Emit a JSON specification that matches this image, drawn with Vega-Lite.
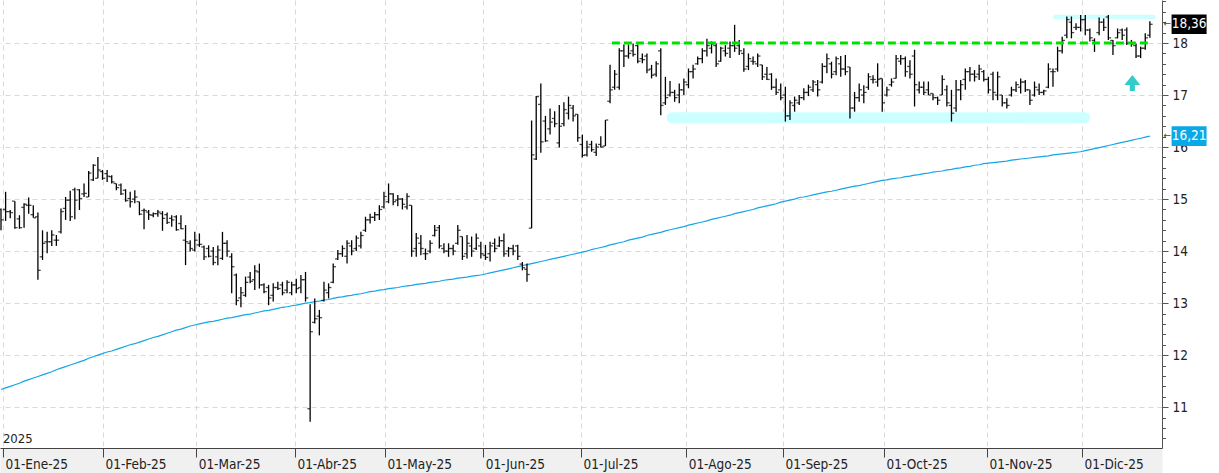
{
"$schema":"https://vega.github.io/schema/vega-lite/v6.json",
"width":1162,"height":448,
"autosize":{"type":"none"},
"padding":{"left":0,"top":0,"right":57,"bottom":25},
"background":"white",
"config":{"view":{"stroke":null},"font":"Liberation Sans Narrow, DejaVu Sans Condensed, Liberation Sans","axis":{"title":null}},
"datasets":{
"bars":[
{"i":0,"o":14.8,"h":14.82,"l":14.4,"c":14.6,"ma":11.34},
{"i":1,"o":14.8,"h":15.14,"l":14.58,"c":14.76,"ma":11.37},
{"i":2,"o":14.76,"h":14.79,"l":14.63,"c":14.74,"ma":11.4},
{"i":3,"o":14.96,"h":14.96,"l":14.43,"c":14.45,"ma":11.43},
{"i":4,"o":14.62,"h":14.69,"l":14.43,"c":14.45,"ma":11.46},
{"i":5,"o":14.84,"h":14.92,"l":14.45,"c":14.9,"ma":11.5},
{"i":6,"o":14.88,"h":15.03,"l":14.72,"c":14.88,"ma":11.53},
{"i":7,"o":14.7,"h":14.88,"l":14.64,"c":14.64,"ma":11.56},
{"i":8,"o":14.66,"h":14.74,"l":13.45,"c":13.63,"ma":11.59},
{"i":9,"o":13.89,"h":14.4,"l":13.83,"c":14.15,"ma":11.62},
{"i":10,"o":14.18,"h":14.37,"l":13.96,"c":14.18,"ma":11.65},
{"i":11,"o":14.18,"h":14.4,"l":14.1,"c":14.31,"ma":11.68},
{"i":12,"o":14.21,"h":14.31,"l":14.1,"c":14.21,"ma":11.72},
{"i":13,"o":14.37,"h":14.82,"l":14.34,"c":14.76,"ma":11.75},
{"i":14,"o":14.82,"h":15.04,"l":14.6,"c":14.98,"ma":11.78},
{"i":15,"o":14.98,"h":15.16,"l":14.58,"c":14.66,"ma":11.81},
{"i":16,"o":15.18,"h":15.22,"l":14.61,"c":14.98,"ma":11.84},
{"i":17,"o":15.18,"h":15.19,"l":14.79,"c":15.01,"ma":11.87},
{"i":18,"o":15.1,"h":15.3,"l":15.04,"c":15.11,"ma":11.9},
{"i":19,"o":15.04,"h":15.54,"l":15.04,"c":15.5,"ma":11.94},
{"i":20,"o":15.37,"h":15.67,"l":15.35,"c":15.65,"ma":11.97},
{"i":21,"o":15.4,"h":15.81,"l":15.4,"c":15.56,"ma":12.0},
{"i":22,"o":15.53,"h":15.56,"l":15.37,"c":15.4,"ma":12.03},
{"i":23,"o":15.49,"h":15.56,"l":15.33,"c":15.44,"ma":12.06},
{"i":24,"o":15.43,"h":15.46,"l":15.3,"c":15.33,"ma":12.08},
{"i":25,"o":15.3,"h":15.3,"l":15.17,"c":15.22,"ma":12.11},
{"i":26,"o":15.27,"h":15.3,"l":15.08,"c":15.1,"ma":12.14},
{"i":27,"o":15.17,"h":15.19,"l":14.95,"c":14.97,"ma":12.17},
{"i":28,"o":15.01,"h":15.14,"l":14.84,"c":14.95,"ma":12.2},
{"i":29,"o":15.0,"h":15.17,"l":14.92,"c":15.04,"ma":12.22},
{"i":30,"o":14.95,"h":14.95,"l":14.69,"c":14.71,"ma":12.25},
{"i":31,"o":14.78,"h":14.82,"l":14.42,"c":14.78,"ma":12.28},
{"i":32,"o":14.75,"h":14.79,"l":14.6,"c":14.7,"ma":12.31},
{"i":33,"o":14.69,"h":14.74,"l":14.65,"c":14.72,"ma":12.34},
{"i":34,"o":14.72,"h":14.79,"l":14.66,"c":14.75,"ma":12.36},
{"i":35,"o":14.72,"h":14.77,"l":14.39,"c":14.63,"ma":12.39},
{"i":36,"o":14.7,"h":14.74,"l":14.52,"c":14.55,"ma":12.42},
{"i":37,"o":14.63,"h":14.69,"l":14.47,"c":14.6,"ma":12.45},
{"i":38,"o":14.66,"h":14.69,"l":14.39,"c":14.41,"ma":12.48},
{"i":39,"o":14.53,"h":14.69,"l":14.42,"c":14.43,"ma":12.5},
{"i":40,"o":14.21,"h":14.5,"l":13.73,"c":14.18,"ma":12.53},
{"i":41,"o":14.15,"h":14.21,"l":13.99,"c":14.05,"ma":12.56},
{"i":42,"o":14.02,"h":14.37,"l":13.99,"c":14.21,"ma":12.58},
{"i":43,"o":14.12,"h":14.34,"l":14.08,"c":14.13,"ma":12.6},
{"i":44,"o":14.08,"h":14.11,"l":13.83,"c":13.89,"ma":12.62},
{"i":45,"o":14.05,"h":14.11,"l":13.88,"c":13.9,"ma":12.64},
{"i":46,"o":14.0,"h":14.08,"l":13.73,"c":13.78,"ma":12.65},
{"i":47,"o":13.89,"h":14.11,"l":13.73,"c":14.02,"ma":12.67},
{"i":48,"o":13.86,"h":14.37,"l":13.83,"c":14.15,"ma":12.69},
{"i":49,"o":14.15,"h":14.21,"l":13.89,"c":14.0,"ma":12.71},
{"i":50,"o":13.89,"h":13.96,"l":13.19,"c":13.7,"ma":12.72},
{"i":51,"o":13.54,"h":13.57,"l":12.96,"c":13.05,"ma":12.74},
{"i":52,"o":13.1,"h":13.31,"l":12.92,"c":13.2,"ma":12.76},
{"i":53,"o":13.15,"h":13.51,"l":13.12,"c":13.4,"ma":12.78},
{"i":54,"o":13.5,"h":13.6,"l":13.38,"c":13.42,"ma":12.79},
{"i":55,"o":13.45,"h":13.73,"l":13.25,"c":13.62,"ma":12.81},
{"i":56,"o":13.6,"h":13.76,"l":13.28,"c":13.35,"ma":12.83},
{"i":57,"o":13.35,"h":13.38,"l":13.19,"c":13.22,"ma":12.85},
{"i":58,"o":13.3,"h":13.35,"l":12.96,"c":13.1,"ma":12.86},
{"i":59,"o":13.15,"h":13.38,"l":13.03,"c":13.3,"ma":12.88},
{"i":60,"o":13.3,"h":13.41,"l":13.25,"c":13.28,"ma":12.9},
{"i":61,"o":13.35,"h":13.41,"l":13.15,"c":13.2,"ma":12.92},
{"i":62,"o":13.25,"h":13.44,"l":13.19,"c":13.4,"ma":12.93},
{"i":63,"o":13.2,"h":13.41,"l":13.15,"c":13.35,"ma":12.95},
{"i":64,"o":13.35,"h":13.47,"l":13.19,"c":13.28,"ma":12.96},
{"i":65,"o":13.3,"h":13.54,"l":13.19,"c":13.45,"ma":12.98},
{"i":66,"o":13.45,"h":13.6,"l":13.03,"c":13.1,"ma":13.0},
{"i":67,"o":10.97,"h":12.98,"l":10.72,"c":12.45,"ma":13.01},
{"i":68,"o":12.63,"h":13.09,"l":12.61,"c":12.7,"ma":13.03},
{"i":69,"o":12.75,"h":12.87,"l":12.38,"c":12.72,"ma":13.04},
{"i":70,"o":13.05,"h":13.41,"l":13.03,"c":13.25,"ma":13.06},
{"i":71,"o":13.2,"h":13.38,"l":13.09,"c":13.3,"ma":13.07},
{"i":72,"o":13.4,"h":13.76,"l":13.38,"c":13.7,"ma":13.09},
{"i":73,"o":13.85,"h":14.02,"l":13.83,"c":13.95,"ma":13.11},
{"i":74,"o":13.95,"h":14.11,"l":13.89,"c":14.05,"ma":13.12},
{"i":75,"o":13.9,"h":14.21,"l":13.76,"c":14.15,"ma":13.14},
{"i":76,"o":14.1,"h":14.21,"l":13.92,"c":14.0,"ma":13.15},
{"i":77,"o":14.05,"h":14.3,"l":14.0,"c":14.25,"ma":13.17},
{"i":78,"o":14.1,"h":14.37,"l":14.05,"c":14.3,"ma":13.18},
{"i":79,"o":14.4,"h":14.66,"l":14.37,"c":14.6,"ma":13.2},
{"i":80,"o":14.6,"h":14.72,"l":14.53,"c":14.65,"ma":13.22},
{"i":81,"o":14.65,"h":14.75,"l":14.58,"c":14.7,"ma":13.23},
{"i":82,"o":14.7,"h":14.88,"l":14.6,"c":14.8,"ma":13.25},
{"i":83,"o":14.85,"h":15.14,"l":14.82,"c":15.05,"ma":13.26},
{"i":84,"o":14.95,"h":15.3,"l":14.92,"c":15.1,"ma":13.28},
{"i":85,"o":15.1,"h":15.11,"l":14.88,"c":14.95,"ma":13.29},
{"i":86,"o":14.98,"h":15.08,"l":14.86,"c":15.0,"ma":13.3},
{"i":87,"o":15.0,"h":15.02,"l":14.8,"c":14.9,"ma":13.32},
{"i":88,"o":14.85,"h":15.11,"l":14.8,"c":15.05,"ma":13.33},
{"i":89,"o":14.88,"h":14.88,"l":13.89,"c":14.0,"ma":13.34},
{"i":90,"o":14.05,"h":14.35,"l":13.89,"c":14.25,"ma":13.36},
{"i":91,"o":14.15,"h":14.31,"l":13.92,"c":14.05,"ma":13.37},
{"i":92,"o":13.95,"h":14.05,"l":13.83,"c":13.95,"ma":13.38},
{"i":93,"o":14.0,"h":14.21,"l":13.96,"c":14.15,"ma":13.4},
{"i":94,"o":14.3,"h":14.5,"l":14.28,"c":14.4,"ma":13.41},
{"i":95,"o":14.45,"h":14.5,"l":14.05,"c":14.1,"ma":13.42},
{"i":96,"o":14.05,"h":14.15,"l":13.96,"c":14.0,"ma":13.44},
{"i":97,"o":14.0,"h":14.15,"l":13.89,"c":14.05,"ma":13.45},
{"i":98,"o":14.05,"h":14.12,"l":13.92,"c":14.0,"ma":13.46},
{"i":99,"o":14.15,"h":14.5,"l":14.12,"c":14.4,"ma":13.48},
{"i":100,"o":14.28,"h":14.28,"l":13.83,"c":13.9,"ma":13.49},
{"i":101,"o":13.95,"h":14.31,"l":13.86,"c":14.15,"ma":13.5},
{"i":102,"o":14.1,"h":14.28,"l":13.89,"c":14.0,"ma":13.52},
{"i":103,"o":14.05,"h":14.34,"l":14.02,"c":14.25,"ma":13.53},
{"i":104,"o":14.1,"h":14.18,"l":13.86,"c":13.95,"ma":13.54},
{"i":105,"o":13.92,"h":14.12,"l":13.83,"c":13.88,"ma":13.56},
{"i":106,"o":13.95,"h":14.18,"l":13.8,"c":14.1,"ma":13.58},
{"i":107,"o":14.15,"h":14.24,"l":13.98,"c":14.05,"ma":13.6},
{"i":108,"o":14.1,"h":14.28,"l":14.08,"c":14.2,"ma":13.62},
{"i":109,"o":14.2,"h":14.34,"l":13.89,"c":13.95,"ma":13.64},
{"i":110,"o":14.0,"h":14.08,"l":13.89,"c":14.05,"ma":13.66},
{"i":111,"o":14.05,"h":14.12,"l":13.92,"c":14.0,"ma":13.68},
{"i":112,"o":14.1,"h":14.12,"l":13.83,"c":13.9,"ma":13.7},
{"i":113,"o":13.75,"h":13.79,"l":13.63,"c":13.68,"ma":13.72},
{"i":114,"o":13.65,"h":13.76,"l":13.41,"c":13.55,"ma":13.74},
{"i":115,"o":14.44,"h":16.51,"l":14.44,"c":15.85,"ma":13.76},
{"i":116,"o":15.77,"h":16.98,"l":15.75,"c":16.97,"ma":13.78},
{"i":117,"o":16.82,"h":17.22,"l":15.89,"c":16.1,"ma":13.8},
{"i":118,"o":16.5,"h":16.6,"l":16.1,"c":16.12,"ma":13.82},
{"i":119,"o":16.35,"h":16.74,"l":16.24,"c":16.48,"ma":13.84},
{"i":120,"o":16.55,"h":16.69,"l":16.38,"c":16.45,"ma":13.86},
{"i":121,"o":16.08,"h":16.81,"l":15.99,"c":16.4,"ma":13.88},
{"i":122,"o":16.45,"h":16.86,"l":16.4,"c":16.72,"ma":13.9},
{"i":123,"o":16.65,"h":16.97,"l":16.53,"c":16.8,"ma":13.92},
{"i":124,"o":16.75,"h":16.81,"l":16.49,"c":16.6,"ma":13.94},
{"i":125,"o":16.63,"h":16.63,"l":16.1,"c":16.18,"ma":13.96},
{"i":126,"o":16.05,"h":16.24,"l":15.8,"c":15.84,"ma":13.98},
{"i":127,"o":15.85,"h":16.12,"l":15.82,"c":16.0,"ma":14.0},
{"i":128,"o":16.05,"h":16.12,"l":15.91,"c":15.95,"ma":14.03},
{"i":129,"o":15.9,"h":16.07,"l":15.83,"c":16.0,"ma":14.05},
{"i":130,"o":16.05,"h":16.21,"l":15.99,"c":16.0,"ma":14.07},
{"i":131,"o":16.02,"h":16.52,"l":16.02,"c":16.52,"ma":14.09},
{"i":132,"o":16.88,"h":17.58,"l":16.84,"c":17.1,"ma":14.12},
{"i":133,"o":17.15,"h":17.48,"l":17.1,"c":17.4,"ma":14.14},
{"i":134,"o":17.15,"h":17.9,"l":17.1,"c":17.85,"ma":14.16},
{"i":135,"o":17.85,"h":17.97,"l":17.54,"c":17.75,"ma":14.18},
{"i":136,"o":17.75,"h":17.97,"l":17.7,"c":17.8,"ma":14.21},
{"i":137,"o":17.85,"h":17.99,"l":17.74,"c":17.78,"ma":14.23},
{"i":138,"o":17.95,"h":17.97,"l":17.61,"c":17.65,"ma":14.25},
{"i":139,"o":17.7,"h":17.8,"l":17.61,"c":17.68,"ma":14.27},
{"i":140,"o":17.75,"h":17.8,"l":17.42,"c":17.48,"ma":14.3},
{"i":141,"o":17.5,"h":17.58,"l":17.32,"c":17.38,"ma":14.32},
{"i":142,"o":17.4,"h":17.65,"l":17.35,"c":17.6,"ma":14.34},
{"i":143,"o":17.85,"h":17.9,"l":16.61,"c":16.8,"ma":14.36},
{"i":144,"o":16.85,"h":17.35,"l":16.81,"c":16.95,"ma":14.39},
{"i":145,"o":17.0,"h":17.27,"l":16.97,"c":17.05,"ma":14.41},
{"i":146,"o":17.05,"h":17.1,"l":16.87,"c":16.95,"ma":14.43},
{"i":147,"o":17.0,"h":17.22,"l":16.84,"c":17.1,"ma":14.45},
{"i":148,"o":17.1,"h":17.32,"l":17.0,"c":17.25,"ma":14.47},
{"i":149,"o":17.2,"h":17.51,"l":17.13,"c":17.45,"ma":14.5},
{"i":150,"o":17.45,"h":17.58,"l":17.32,"c":17.5,"ma":14.52},
{"i":151,"o":17.6,"h":17.74,"l":17.58,"c":17.7,"ma":14.54},
{"i":152,"o":17.7,"h":17.9,"l":17.61,"c":17.85,"ma":14.56},
{"i":153,"o":17.85,"h":18.08,"l":17.74,"c":17.95,"ma":14.58},
{"i":154,"o":17.9,"h":18.03,"l":17.8,"c":17.98,"ma":14.61},
{"i":155,"o":17.95,"h":17.99,"l":17.54,"c":17.6,"ma":14.63},
{"i":156,"o":17.65,"h":17.93,"l":17.64,"c":17.9,"ma":14.65},
{"i":157,"o":17.85,"h":17.96,"l":17.74,"c":17.8,"ma":14.67},
{"i":158,"o":17.9,"h":18.03,"l":17.71,"c":17.95,"ma":14.69},
{"i":159,"o":17.95,"h":18.35,"l":17.83,"c":17.9,"ma":14.72},
{"i":160,"o":17.95,"h":18.06,"l":17.77,"c":17.85,"ma":14.74},
{"i":161,"o":17.8,"h":17.9,"l":17.45,"c":17.5,"ma":14.76},
{"i":162,"o":17.55,"h":17.8,"l":17.48,"c":17.7,"ma":14.78},
{"i":163,"o":17.65,"h":17.74,"l":17.58,"c":17.64,"ma":14.8},
{"i":164,"o":17.6,"h":17.8,"l":17.54,"c":17.75,"ma":14.83},
{"i":165,"o":17.58,"h":17.58,"l":17.29,"c":17.35,"ma":14.85},
{"i":166,"o":17.4,"h":17.54,"l":17.29,"c":17.3,"ma":14.87},
{"i":167,"o":17.4,"h":17.42,"l":17.1,"c":17.15,"ma":14.89},
{"i":168,"o":17.15,"h":17.32,"l":17.0,"c":17.05,"ma":14.91},
{"i":169,"o":17.1,"h":17.22,"l":16.9,"c":16.95,"ma":14.94},
{"i":170,"o":17.0,"h":17.16,"l":16.49,"c":16.6,"ma":14.96},
{"i":171,"o":16.6,"h":16.9,"l":16.52,"c":16.85,"ma":14.98},
{"i":172,"o":16.8,"h":16.97,"l":16.68,"c":16.9,"ma":15.0},
{"i":173,"o":16.85,"h":17.0,"l":16.81,"c":16.95,"ma":15.03},
{"i":174,"o":16.95,"h":17.13,"l":16.9,"c":17.05,"ma":15.04},
{"i":175,"o":17.05,"h":17.2,"l":16.98,"c":17.15,"ma":15.06},
{"i":176,"o":17.1,"h":17.29,"l":17.06,"c":17.25,"ma":15.08},
{"i":177,"o":17.2,"h":17.29,"l":16.97,"c":17.1,"ma":15.1},
{"i":178,"o":17.25,"h":17.61,"l":17.22,"c":17.55,"ma":15.12},
{"i":179,"o":17.55,"h":17.8,"l":17.42,"c":17.7,"ma":15.14},
{"i":180,"o":17.6,"h":17.64,"l":17.32,"c":17.4,"ma":15.15},
{"i":181,"o":17.45,"h":17.74,"l":17.38,"c":17.7,"ma":15.17},
{"i":182,"o":17.6,"h":17.75,"l":17.35,"c":17.5,"ma":15.19},
{"i":183,"o":17.5,"h":17.77,"l":17.38,"c":17.45,"ma":15.21},
{"i":184,"o":17.54,"h":17.54,"l":16.55,"c":16.75,"ma":15.23},
{"i":185,"o":16.75,"h":17.06,"l":16.68,"c":16.95,"ma":15.25},
{"i":186,"o":16.95,"h":17.22,"l":16.87,"c":17.1,"ma":15.26},
{"i":187,"o":17.0,"h":17.19,"l":16.84,"c":17.05,"ma":15.28},
{"i":188,"o":17.15,"h":17.42,"l":17.1,"c":17.35,"ma":15.3},
{"i":189,"o":17.3,"h":17.38,"l":17.22,"c":17.3,"ma":15.32},
{"i":190,"o":17.25,"h":17.61,"l":17.16,"c":17.3,"ma":15.34},
{"i":191,"o":17.32,"h":17.32,"l":16.68,"c":16.85,"ma":15.36},
{"i":192,"o":17.0,"h":17.16,"l":16.97,"c":17.1,"ma":15.37},
{"i":193,"o":17.2,"h":17.32,"l":17.16,"c":17.25,"ma":15.39},
{"i":194,"o":17.32,"h":17.77,"l":17.32,"c":17.7,"ma":15.4},
{"i":195,"o":17.65,"h":17.77,"l":17.58,"c":17.7,"ma":15.41},
{"i":196,"o":17.7,"h":17.74,"l":17.35,"c":17.45,"ma":15.43},
{"i":197,"o":17.55,"h":17.67,"l":17.32,"c":17.4,"ma":15.44},
{"i":198,"o":17.75,"h":17.87,"l":16.78,"c":17.2,"ma":15.46},
{"i":199,"o":17.1,"h":17.26,"l":17.03,"c":17.15,"ma":15.47},
{"i":200,"o":17.15,"h":17.26,"l":17.0,"c":17.05,"ma":15.49},
{"i":201,"o":17.1,"h":17.26,"l":17.0,"c":17.0,"ma":15.5},
{"i":202,"o":17.03,"h":17.03,"l":16.9,"c":16.95,"ma":15.52},
{"i":203,"o":16.95,"h":16.97,"l":16.81,"c":16.9,"ma":15.53},
{"i":204,"o":17.0,"h":17.38,"l":17.0,"c":17.3,"ma":15.54},
{"i":205,"o":17.1,"h":17.19,"l":16.78,"c":16.85,"ma":15.56},
{"i":206,"o":16.8,"h":17.1,"l":16.49,"c":16.65,"ma":15.57},
{"i":207,"o":16.75,"h":17.29,"l":16.68,"c":17.1,"ma":15.59},
{"i":208,"o":17.1,"h":17.29,"l":16.9,"c":17.2,"ma":15.6},
{"i":209,"o":17.3,"h":17.51,"l":17.1,"c":17.45,"ma":15.62},
{"i":210,"o":17.45,"h":17.54,"l":17.26,"c":17.4,"ma":15.63},
{"i":211,"o":17.4,"h":17.48,"l":17.26,"c":17.35,"ma":15.65},
{"i":212,"o":17.4,"h":17.58,"l":17.29,"c":17.5,"ma":15.66},
{"i":213,"o":17.45,"h":17.48,"l":17.26,"c":17.3,"ma":15.68},
{"i":214,"o":17.3,"h":17.35,"l":17.03,"c":17.1,"ma":15.69},
{"i":215,"o":17.4,"h":17.45,"l":16.9,"c":17.05,"ma":15.7},
{"i":216,"o":17.0,"h":17.45,"l":16.9,"c":17.35,"ma":15.71},
{"i":217,"o":17.0,"h":17.0,"l":16.78,"c":16.85,"ma":15.72},
{"i":218,"o":16.85,"h":16.94,"l":16.74,"c":16.8,"ma":15.73},
{"i":219,"o":17.0,"h":17.16,"l":16.97,"c":17.1,"ma":15.75},
{"i":220,"o":17.1,"h":17.26,"l":17.06,"c":17.2,"ma":15.76},
{"i":221,"o":17.15,"h":17.32,"l":17.03,"c":17.25,"ma":15.77},
{"i":222,"o":17.25,"h":17.29,"l":17.06,"c":17.1,"ma":15.78},
{"i":223,"o":17.1,"h":17.1,"l":16.81,"c":16.9,"ma":15.79},
{"i":224,"o":17.0,"h":17.26,"l":16.97,"c":17.15,"ma":15.8},
{"i":225,"o":17.1,"h":17.22,"l":17.0,"c":17.05,"ma":15.81},
{"i":226,"o":17.05,"h":17.1,"l":17.0,"c":17.08,"ma":15.82},
{"i":227,"o":17.15,"h":17.61,"l":17.13,"c":17.5,"ma":15.83},
{"i":228,"o":17.45,"h":17.51,"l":17.16,"c":17.45,"ma":15.85},
{"i":229,"o":17.5,"h":17.93,"l":17.45,"c":17.85,"ma":15.86},
{"i":230,"o":17.85,"h":18.12,"l":17.8,"c":18.05,"ma":15.87},
{"i":231,"o":18.15,"h":18.51,"l":18.09,"c":18.45,"ma":15.88},
{"i":232,"o":18.4,"h":18.51,"l":18.09,"c":18.2,"ma":15.89},
{"i":233,"o":18.3,"h":18.38,"l":18.25,"c":18.3,"ma":15.9},
{"i":234,"o":18.3,"h":18.54,"l":18.22,"c":18.45,"ma":15.91},
{"i":235,"o":18.45,"h":18.54,"l":18.15,"c":18.25,"ma":15.93},
{"i":236,"o":18.25,"h":18.28,"l":18.03,"c":18.1,"ma":15.95},
{"i":237,"o":18.05,"h":18.09,"l":17.83,"c":18.0,"ma":15.97},
{"i":238,"o":18.2,"h":18.49,"l":18.15,"c":18.4,"ma":15.99},
{"i":239,"o":18.4,"h":18.47,"l":18.23,"c":18.3,"ma":16.01},
{"i":240,"o":18.5,"h":18.54,"l":18.06,"c":18.1,"ma":16.03},
{"i":241,"o":18.05,"h":18.06,"l":17.77,"c":17.95,"ma":16.05},
{"i":242,"o":18.1,"h":18.28,"l":18.09,"c":18.2,"ma":16.07},
{"i":243,"o":18.25,"h":18.28,"l":18.06,"c":18.15,"ma":16.09},
{"i":244,"o":18.25,"h":18.3,"l":17.96,"c":18.0,"ma":16.11},
{"i":245,"o":18.0,"h":18.06,"l":17.93,"c":17.98,"ma":16.13},
{"i":246,"o":17.95,"h":17.99,"l":17.71,"c":17.75,"ma":16.15},
{"i":247,"o":17.75,"h":17.93,"l":17.71,"c":17.9,"ma":16.17},
{"i":248,"o":17.9,"h":18.19,"l":17.87,"c":18.1,"ma":16.19},
{"i":249,"o":18.15,"h":18.42,"l":18.1,"c":18.36,"ma":16.21}
],
"bands":[{"x1":144.3,"x2":236.0,"lo":16.46,"hi":16.67},{"x1":228.0,"x2":250.3,"lo":18.455,"hi":18.545}],
"support":[{"x1":132.4,"x2":248.6,"p":18}],
"tags":[{"lab":"18,36","p":18.36,"kind":"last"},{"lab":"16,21","p":16.21,"kind":"ma"}],
"notes":[{"note":"arrow"}],
"year":[{"lab":"2025"}]
},
"layer":[
{"data":{"name":"bands"},
 "mark":{"type":"rect","color":"#ccffff","cornerRadius":5},
 "encoding":{
  "x":{"field":"x1","type":"quantitative","scale":{"domain":[-0.217,251.63],"nice":false,"zero":false},
       "axis":{"orient":"bottom","offset":12,"domainWidth":25,"domainColor":"#f0f0f0","ticks":false,"labels":false,"grid":false,"zindex":0}},
  "x2":{"field":"x2"},
  "y":{"field":"lo","type":"quantitative","scale":{"domain":[10.215,18.827],"nice":false,"zero":false},"axis":null},
  "y2":{"field":"hi"}}},
{"data":{"name":"bars"},
 "mark":{"type":"line","color":"#14a6e6","strokeWidth":1.2},
 "encoding":{
  "x":{"field":"i","type":"quantitative","scale":{"domain":[-0.217,251.63],"nice":false,"zero":false},"axis":null},
  "y":{"field":"ma","type":"quantitative","scale":{"domain":[10.215,18.827],"nice":false,"zero":false},"axis":null}}},
{"data":{"name":"bars"},
 "mark":{"type":"rule","color":"#000000","strokeWidth":1.3},
 "encoding":{
  "x":{"field":"i","type":"quantitative","scale":{"domain":[-0.217,251.63],"nice":false,"zero":false},
       "axis":{"orient":"bottom","values":[0.43,22.1,42.3,63.7,83.2,104.5,125.7,148.5,169.5,191.4,213.7,234.3],"grid":true,"gridColor":"#d9d9d9","gridDash":[5,4],"domain":false,"ticks":false,"labels":false,"zindex":0}},
  "y":{"field":"l","type":"quantitative","scale":{"domain":[10.215,18.827],"nice":false,"zero":false},
       "axis":{"orient":"right","values":[11,12,13,14,15,16,17,18],"format":"d","grid":true,"gridColor":"#d9d9d9","gridDash":[5,4],"domainColor":"#555555","tickColor":"#555555","tickSize":6,"labelPadding":4,"labelFontSize":13.5,"labelColor":"#222222","labelFont":"Liberation Sans Narrow, DejaVu Sans Condensed, Liberation Sans","zindex":0}},
  "y2":{"field":"h"}}},
{"data":{"name":"bars"},
 "mark":{"type":"tick","orient":"horizontal","color":"#000000","size":2.6,"thickness":1.3,"xOffset":-1.5},
 "encoding":{
  "x":{"field":"i","type":"quantitative","scale":{"domain":[-0.217,251.63],"nice":false,"zero":false},
       "axis":{"orient":"bottom","values":[0.43,22.1,42.3,63.7,83.2,104.5,125.7,148.5,169.5,191.4,213.7,234.3],
        "labelExpr":"datum.value < 10 ? '01-Ene-25' : datum.value < 30 ? '01-Feb-25' : datum.value < 50 ? '01-Mar-25' : datum.value < 70 ? '01-Abr-25' : datum.value < 90 ? '01-May-25' : datum.value < 110 ? '01-Jun-25' : datum.value < 135 ? '01-Jul-25' : datum.value < 155 ? '01-Ago-25' : datum.value < 180 ? '01-Sep-25' : datum.value < 200 ? '01-Oct-25' : datum.value < 220 ? '01-Nov-25' : '01-Dic-25'",
        "grid":false,"domainColor":"#444444","tickColor":"#444444","tickSize":9,"labelAlign":"left","labelOffset":2,"labelBaseline":"middle","labelPadding":7,"labelFontSize":13.5,"labelColor":"#222222","labelFont":"Liberation Sans Narrow, DejaVu Sans Condensed, Liberation Sans","labelOverlap":false,"labelBound":false,"labelFlush":false,"zindex":1}},
  "y":{"field":"o","type":"quantitative","scale":{"domain":[10.215,18.827],"nice":false,"zero":false},
       "axis":{"orient":"right","values":[10.4,10.6,10.8,11,11.2,11.4,11.6,11.8,12,12.2,12.4,12.6,12.8,13,13.2,13.4,13.6,13.8,14,14.2,14.4,14.6,14.8,15,15.2,15.4,15.6,15.8,16,16.2,16.4,16.6,16.8,17,17.2,17.4,17.6,17.8,18,18.2,18.4,18.6,18.8],"labels":false,"grid":false,"domain":false,"tickSize":3.5,"tickColor":"#555555","zindex":0}}}},
{"data":{"name":"bars"},
 "mark":{"type":"tick","orient":"horizontal","color":"#000000","size":2.6,"thickness":1.3,"xOffset":1.5},
 "encoding":{
  "x":{"field":"i","type":"quantitative","scale":{"domain":[-0.217,251.63],"nice":false,"zero":false},"axis":null},
  "y":{"field":"c","type":"quantitative","scale":{"domain":[10.215,18.827],"nice":false,"zero":false},"axis":null}}},
{"data":{"name":"support"},
 "mark":{"type":"rule","color":"#00e000","strokeWidth":3,"strokeDash":[8,4]},
 "encoding":{
  "x":{"field":"x1","type":"quantitative","scale":{"domain":[-0.217,251.63],"nice":false,"zero":false},"axis":null},
  "x2":{"field":"x2"},
  "y":{"field":"p","type":"quantitative","scale":{"domain":[10.215,18.827],"nice":false,"zero":false},"axis":null}}},
{"data":{"name":"notes"},
 "mark":{"type":"point","shape":"M0,-1L1,0.25L0.32,0.25L0.32,1L-0.32,1L-0.32,0.25L-1,0.25Z","size":256,"filled":true,"color":"#33cccc","opacity":1,"strokeWidth":0},
 "encoding":{
  "x":{"datum":245.2,"type":"quantitative","scale":{"domain":[-0.217,251.63],"nice":false,"zero":false},"axis":null},
  "y":{"datum":17.23,"type":"quantitative","scale":{"domain":[10.215,18.827],"nice":false,"zero":false},"axis":null}}},
{"data":{"name":"tags"},
 "mark":{"type":"point","shape":"M-1,-0.56L1,-0.56L1,0.56L-1,0.56Z","size":1225,"filled":true,"opacity":1,"strokeWidth":0},
 "encoding":{
  "x":{"datum":257.5,"type":"quantitative","scale":{"domain":[-0.217,251.63],"nice":false,"zero":false},"axis":null},
  "y":{"field":"p","type":"quantitative","scale":{"domain":[10.215,18.827],"nice":false,"zero":false},"axis":null},
  "color":{"field":"kind","type":"nominal","scale":{"domain":["last","ma"],"range":["#000000","#0aa8e6"]},"legend":null}}},
{"data":{"name":"tags"},
 "mark":{"type":"text","color":"#ffffff","fontSize":13.5,"align":"center","baseline":"middle","font":"Liberation Sans Narrow, DejaVu Sans Condensed, Liberation Sans"},
 "encoding":{
  "x":{"datum":257.5,"type":"quantitative","scale":{"domain":[-0.217,251.63],"nice":false,"zero":false},"axis":null},
  "y":{"field":"p","type":"quantitative","scale":{"domain":[10.215,18.827],"nice":false,"zero":false},"axis":null},
  "text":{"field":"lab"}}},
{"data":{"name":"tags"},
 "mark":{"type":"text","color":"#444444","fontSize":10,"align":"center","baseline":"middle","text":"←"},
 "encoding":{
  "x":{"datum":252.75,"type":"quantitative","scale":{"domain":[-0.217,251.63],"nice":false,"zero":false},"axis":null},
  "y":{"field":"p","type":"quantitative","scale":{"domain":[10.215,18.827],"nice":false,"zero":false},"axis":null}}},
{"data":{"name":"year"},
 "mark":{"type":"text","color":"#222222","fontSize":13,"align":"left","baseline":"bottom","dx":1,"font":"Liberation Sans Narrow, DejaVu Sans Condensed, Liberation Sans"},
 "encoding":{
  "x":{"datum":0.2,"type":"quantitative","scale":{"domain":[-0.217,251.63],"nice":false,"zero":false},"axis":null},
  "y":{"datum":10.26,"type":"quantitative","scale":{"domain":[10.215,18.827],"nice":false,"zero":false},"axis":null},
  "text":{"field":"lab"}}}
],
"resolve":{"axis":{"x":"independent","y":"independent"}}
}
